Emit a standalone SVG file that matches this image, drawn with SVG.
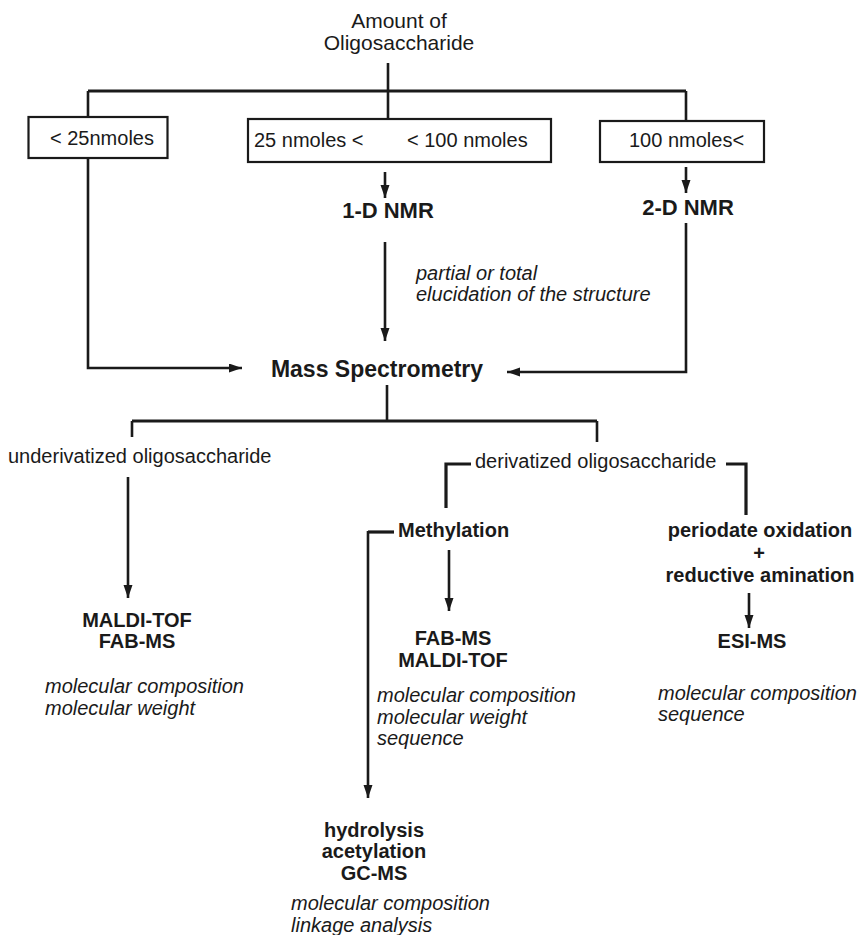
<svg xmlns="http://www.w3.org/2000/svg" width="861" height="935" viewBox="0 0 861 935">
<defs>
<marker id="ah" markerUnits="userSpaceOnUse" markerWidth="14" markerHeight="10" refX="13" refY="4.5" orient="auto">
<path d="M0,0 L13,4.5 L0,9 z" fill="#1a1a1a"/>
</marker>
<style>
text{font-family:"Liberation Sans",Arial,Helvetica,sans-serif;fill:#1a1a1a;font-size:20px}
.b{font-weight:bold}
.i{font-style:italic}
.c{text-anchor:middle}
.ln{fill:none;stroke:#1a1a1a;stroke-width:2.6}
.bar{fill:none;stroke:#1a1a1a;stroke-width:3.2}
.box{fill:#fff;stroke:#1a1a1a;stroke-width:2.2}
</style>
</defs>
<rect width="861" height="935" fill="#fff"/>

<g id="connectors">
<path class="ln" d="M388,63 V118"/>
<path class="bar" d="M88,91 H686"/>
<path class="ln" d="M88,91 V117 M686,91 V121"/>
<path class="ln" d="M88,158 V368 H242" marker-end="url(#ah)"/>
<path class="ln" d="M385,172 V198" marker-end="url(#ah)"/>
<path class="ln" d="M686,167 V193" marker-end="url(#ah)"/>
<path class="ln" d="M385,242 V341" marker-end="url(#ah)"/>
<path class="ln" d="M686,223 V372 H507" marker-end="url(#ah)"/>
<path class="ln" d="M387,385 V421"/>
<path class="bar" d="M132,421 H597"/>
<path class="ln" d="M132,421 V437 M597,421 V442"/>
<path class="ln" d="M128,477 V598" marker-end="url(#ah)"/>
<path class="bar" d="M471,464 H446 V508"/>
<path class="bar" d="M726,464 H746 V515"/>
<path class="bar" d="M394,532 H368"/>
<path class="ln" d="M368,531 V798" marker-end="url(#ah)"/>
<path class="ln" d="M449,550 V611" marker-end="url(#ah)"/>
<path class="ln" d="M749,593 V628" marker-end="url(#ah)"/>
</g>

<g id="title">
<text class="c" x="399" y="28" style="font-size:21px">Amount of</text>
<text class="c" x="399" y="50" style="font-size:21px">Oligosaccharide</text>
</g>

<g id="box-low">
<rect class="box" x="28.5" y="117" width="139" height="41"/>
<text x="50" y="145">&lt; 25nmoles</text>
</g>
<g id="box-mid">
<rect class="box" x="248" y="119" width="303" height="43"/>
<text x="254" y="147">25 nmoles &lt;</text>
<text x="407" y="147">&lt; 100 nmoles</text>
</g>
<g id="box-high">
<rect class="box" x="600" y="121" width="164" height="41"/>
<text x="629" y="147">100 nmoles&lt;</text>
</g>

<g id="nmr1">
<text class="b c" x="388" y="218" style="font-size:22px">1-D NMR</text>
</g>
<g id="nmr2">
<text class="b c" x="688" y="215" style="font-size:22px">2-D NMR</text>
</g>
<g id="nmr1-note">
<text class="i" x="416" y="280">partial or total</text>
<text class="i" x="416" y="301">elucidation of the structure</text>
</g>

<g id="ms">
<text class="b c" x="377" y="377" style="font-size:23px">Mass Spectrometry</text>
</g>

<g id="underiv">
<text x="8" y="463">underivatized oligosaccharide</text>
</g>
<g id="maldi1">
<text class="b c" x="137" y="627">MALDI-TOF</text>
<text class="b c" x="137" y="648">FAB-MS</text>
<text class="i" x="45" y="693">molecular composition</text>
<text class="i" x="45" y="715">molecular weight</text>
</g>

<g id="deriv">
<text x="475" y="468">derivatized oligosaccharide</text>
</g>
<g id="methylation">
<text class="b" x="398" y="537">Methylation</text>
</g>
<g id="fab2">
<text class="b c" x="453" y="645">FAB-MS</text>
<text class="b c" x="453" y="667">MALDI-TOF</text>
<text class="i" x="377" y="702">molecular composition</text>
<text class="i" x="377" y="724">molecular weight</text>
<text class="i" x="377" y="745">sequence</text>
</g>

<g id="periodate">
<text class="b c" x="760" y="537">periodate oxidation</text>
<text class="b c" x="759" y="560">+</text>
<text class="b c" x="760" y="582">reductive amination</text>
</g>
<g id="esi">
<text class="b c" x="752" y="648">ESI-MS</text>
<text class="i" x="658" y="700">molecular composition</text>
<text class="i" x="658" y="721">sequence</text>
</g>

<g id="gcms">
<text class="b c" x="374" y="837">hydrolysis</text>
<text class="b c" x="374" y="858">acetylation</text>
<text class="b c" x="374" y="880">GC-MS</text>
<text class="i" x="291" y="910">molecular composition</text>
<text class="i" x="291" y="932">linkage analysis</text>
</g>
</svg>
